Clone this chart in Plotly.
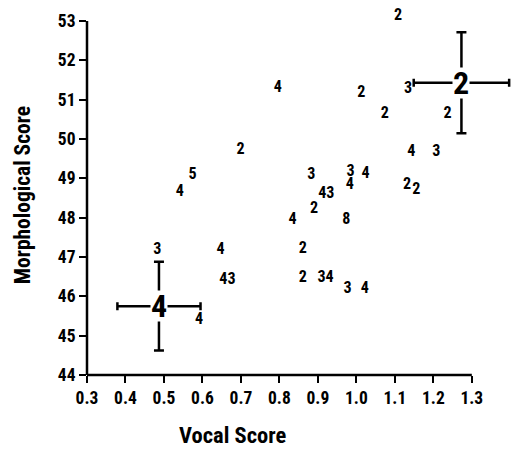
import plotly.graph_objects as go

# Individual scores (label = number printed at the point)
vocal = [1.108, 1.013, 1.134, 1.074, 1.237, 1.143, 1.208, 0.883, 0.985, 0.983,
         1.024, 0.922, 1.132, 1.156, 0.796, 0.699, 0.574, 0.541, 0.834, 0.483,
         0.647, 0.665, 0.591, 0.890, 0.974, 0.861, 0.861, 0.920, 0.977, 1.022]
morph = [53.12, 51.16, 51.26, 50.63, 50.63, 49.67, 49.67, 49.08, 49.16, 48.84,
         49.12, 48.61, 48.82, 48.70, 51.29, 49.72, 49.08, 48.65, 47.93, 47.19,
         47.19, 46.41, 45.39, 48.21, 47.93, 47.20, 46.47, 46.47, 46.18, 46.18]
labels = ["2", "2", "3", "2", "2", "4", "3", "3", "3", "4",
          "4", "43", "2", "2", "4", "2", "5", "4", "4", "3",
          "4", "43", "4", "2", "8", "2", "2", "34", "3", "4"]

# Group means with error bars
mean_labels = ["2", "4"]
mean_vocal = [1.273, 0.487]
mean_morph = [51.43, 45.75]
err_vocal = [0.124, 0.108]
err_morph = [1.285, 1.13]

x_ticks = [0.3, 0.4, 0.5, 0.6, 0.7, 0.8, 0.9, 1.0, 1.1, 1.2, 1.3]
x_ticktext = ["0.3", "0.4", "0.5", "0.6", "0.7", "0.8", "0.9", "1.0", "1.1", "1.2", "1.3"]
y_ticks = [44, 45, 46, 47, 48, 49, 50, 51, 52, 53]
x_view_max = 1.42   # room for the right error bar beyond the last tick
y_view_max = 53.33  # room for the label above the top tick

FONT = "Roboto Condensed, Roboto, Liberation Sans"

def f(size):
    return dict(family=FONT, size=size, color="black", weight="bold")

fig = go.Figure()

fig.add_trace(go.Scatter(
    x=vocal, y=morph, mode="text", text=labels,
    textposition="middle center", textfont=f(16),
    cliponaxis=False, showlegend=False, hoverinfo="skip",
))

fig.add_trace(go.Scatter(
    x=mean_vocal, y=mean_morph, mode="markers", text=mean_labels,
    marker=dict(symbol="square", size=1, color="white", opacity=0),
    error_x=dict(type="data", array=err_vocal, visible=True, color="black",
                 thickness=2.5, width=4),
    error_y=dict(type="data", array=err_morph, visible=True, color="black",
                 thickness=2.5, width=5),
    cliponaxis=False, showlegend=False, hoverinfo="skip",
))

# big mean labels on white boxes that break the error bars
for lab, xv, yv in zip(mean_labels, mean_vocal, mean_morph):
    fig.add_annotation(x=xv, y=yv, xref="x", yref="y", text=lab, showarrow=False,
                       font=f(32), bgcolor="white", borderpad=0, width=16, height=30,
                       xanchor="center", yanchor="middle")

axis_common = dict(
    showgrid=False, zeroline=False, showline=False,
    ticks="outside", ticklen=7, tickwidth=2, tickcolor="black",
    tickfont=f(17.5), mirror=False, automargin=False,
)

fig.update_xaxes(range=[x_ticks[0], x_view_max], tickmode="array",
                 tickvals=x_ticks, ticktext=x_ticktext, **axis_common)
fig.update_yaxes(range=[y_ticks[0], y_view_max], tickmode="array",
                 tickvals=y_ticks, **axis_common)

# axis lines only across the ticked spans
fig.add_shape(type="line", xref="x", yref="paper", x0=x_ticks[0], x1=x_ticks[-1],
              y0=0, y1=0, line=dict(color="black", width=2.5))
fig.add_shape(type="line", xref="paper", yref="y", x0=0, x1=0,
              y0=y_ticks[0], y1=y_ticks[-1], line=dict(color="black", width=2.5))

fig.add_annotation(text="Vocal Score", xref="paper", yref="paper",
                   x=(0.677 - x_ticks[0]) / (x_view_max - x_ticks[0]), y=0,
                   yshift=-60, xanchor="center", yanchor="middle", showarrow=False,
                   font=f(22.5))
fig.add_annotation(text="Morphological Score", xref="paper", yref="y", x=0,
                   y=(y_ticks[0] + y_ticks[-1]) / 2 + 0.07,
                   xshift=-65, xanchor="center", yanchor="middle", showarrow=False,
                   textangle=-90, font=f(21.5))

fig.update_layout(
    width=519, height=450,
    margin=dict(l=79, r=9, t=0, b=83),
    plot_bgcolor="white", paper_bgcolor="white",
    showlegend=False,
)

fig.write_html("out.html")
